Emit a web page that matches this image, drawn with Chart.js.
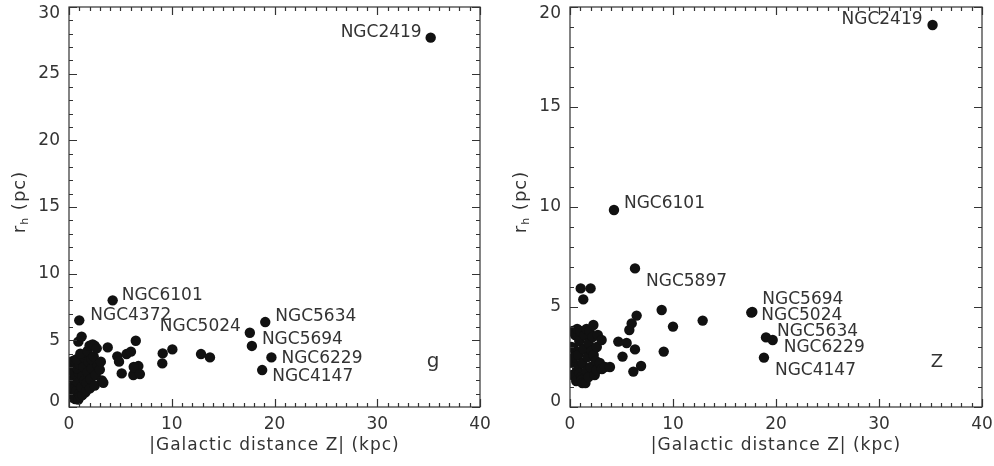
<!DOCTYPE html>
<html>
<head>
<meta charset="utf-8">
<script src="https://cdn.jsdelivr.net/npm/chart.js@4/dist/chart.umd.min.js"></script>
<style>
  html, body { margin: 0; padding: 0; background: #fff; }
  #wrap { position: relative; width: 994px; height: 466px; }
  canvas { position: absolute; top: 0; }
  #chartG { left: 0; }
  #chartZ { left: 497px; }
</style>
</head>
<body>
<div id="wrap">
  <canvas id="chartG" width="497" height="466"></canvas>
  <canvas id="chartZ" width="497" height="466"></canvas>
</div>
<script>
// g band: |Z| (kpc) and half-light radius r_h (pc)
const gDist = [0.2, 0.15, 0.3, 0.4, 0.3, 0.25, 0.5, 0.35, 0.6, 0.58, 0.7, 0.8, 0.5, 0.9, 0.8, 1.0, 0.75,
  0.91, 1.23, 0.9, 1.0, 1.1, 1.3, 1.2, 1.3, 1.4, 1.5, 1.1, 1.5, 1.6, 1.72, 1.7, 1.8, 1.9, 1.8, 2.0,
  2.04, 2.1, 2.2, 2.2, 2.3, 2.4, 2.5, 2.6, 2.5, 2.7, 2.8, 3.0, 3.1, 3.2, 3.34,
  3.77, 4.7, 4.87, 5.6, 6.03, 5.13, 6.26, 6.5, 6.75, 6.3, 6.9, 9.12, 10.06, 9.08, 12.85, 13.72];
const gRh = [0.9, 1.2, 1.5, 2.1, 2.8, 3.4, 3.5, 0.7, 0.6, 0.77, 1.2, 1.9, 2.5, 2.6, 2.9, 3.2, 3.58,
  4.9, 5.28, 0.55, 1.0, 0.8, 0.9, 1.5, 2.3, 3.0, 3.7, 4.0, 2.0, 1.1, 1.27, 1.8, 2.6, 3.4, 4.2, 4.6,
  1.4, 2.1, 2.9, 3.6, 4.7, 3.8, 1.6, 2.4, 4.6, 4.4, 3.1, 2.8, 3.4, 2.0, 1.82,
  4.47, 3.8, 3.4, 3.97, 4.15, 2.52, 2.4, 4.97, 3.07, 3.0, 2.47, 4.02, 4.32, 3.27, 3.97, 3.72];
const gNames = ['NGC2419', 'NGC6101', 'NGC4372', 'NGC5024', 'NGC5634', 'NGC5694', 'NGC6229', 'NGC4147'];
const gNamedDist = [35.2, 4.25, 1.0, 17.6, 19.1, 17.8, 19.7, 18.8];
const gNamedRh = [27.7, 8.0, 6.5, 5.57, 6.37, 4.58, 3.72, 2.77];

// z band
const zDist = [0.2, 0.3, 0.4, 0.5, 0.15, 0.3, 0.6, 0.7, 0.4, 0.8, 0.9, 0.7, 1.0, 0.9, 1.1, 1.13, 1.2,
  1.2, 1.3, 1.4, 1.5, 1.6, 1.7, 1.8, 1.6, 1.9, 1.8, 2.0, 2.1, 2.2, 2.27, 2.3, 2.4, 2.5, 2.59, 2.6,
  2.7, 2.9, 3.07, 3.1, 3.4, 3.88, 1.04, 2.0, 1.29,
  4.69, 5.5, 6.31, 5.1, 6.15, 6.9, 6.47, 5.99, 5.76, 8.9, 10.0, 9.1, 12.88];
const zRh = [1.6, 2.2, 2.9, 3.6, 3.0, 3.8, 1.3, 1.9, 2.5, 2.6, 3.3, 3.9, 3.8, 1.7, 1.5, 1.35, 1.2,
  2.2, 2.9, 3.6, 1.2, 1.8, 2.5, 3.2, 3.9, 3.8, 1.5, 2.0, 2.8, 3.5, 4.1, 2.6, 1.6, 2.3, 1.85, 3.0,
  3.6, 2.2, 3.35, 1.9, 2.0, 2.0, 5.93, 5.93, 5.38,
  3.27, 3.2, 2.88, 2.52, 1.77, 2.05, 4.57, 4.18, 3.85, 4.85, 4.02, 2.77, 4.32];
const zNames = ['NGC2419', 'NGC6101', 'NGC5897', 'NGC5694', 'NGC5024', 'NGC5634', 'NGC6229', 'NGC4147'];
const zNamedDist = [35.2, 4.27, 6.31, 17.7, 17.6, 19.03, 19.68, 18.83];
const zNamedRh = [19.1, 9.85, 6.93, 4.75, 4.72, 3.48, 3.35, 2.47];

const xTicks = [0, 10, 20, 30, 40];
const gYTicks = [0, 5, 10, 15, 20, 25, 30];
const zYTicks = [0, 5, 10, 15, 20];

const FONT = 'DejaVu Sans';
const INK = '#333';

// where each name sits next to its point: [dx, dy, align]
const gLabelPos = [[-9, -5, 'right'], [9, -5, 'left'], [11, -5, 'left'], [-9, -6, 'right'],
  [10, -5, 'left'], [10, -6, 'left'], [10, 1, 'left'], [10, 7, 'left']];
const zLabelPos = [[-10, -5, 'right'], [10, -6, 'left'], [11, 13, 'left'], [10, -12, 'left'],
  [10, 3, 'left'], [11, -6, 'left'], [11, 8, 'left'], [11, 13, 'left']];

// box, inward ticks on all four sides, names, axis titles, band letter
const decor = {
  id: 'decor',
  beforeDraw(chart) {
    // pull the end labels of the y axis back inside the box
    const items = chart.scales.y.getLabelItems(chart.chartArea);
    items[0].options.translation[1] -= 5;
    items[items.length - 1].options.translation[1] += 7;
  },
  afterDatasetsDraw(chart, args, o) {
    const { ctx, chartArea: a, scales: { x, y } } = chart;
    ctx.save();
    ctx.strokeStyle = INK;
    ctx.lineWidth = 1.2;
    ctx.strokeRect(a.left, a.top, a.right - a.left, a.bottom - a.top);
    ctx.beginPath();
    for (let v = x.min; v <= x.max; v += 1) {
      const px = Math.round(x.getPixelForValue(v)) + 0.5;
      const len = v % 10 === 0 ? 8 : 4;
      ctx.moveTo(px, a.bottom); ctx.lineTo(px, a.bottom - len);
      ctx.moveTo(px, a.top); ctx.lineTo(px, a.top + len);
    }
    for (let v = y.min; v <= y.max; v += 1) {
      const py = Math.round(y.getPixelForValue(v)) + 0.5;
      const len = v % 5 === 0 ? 8 : 4;
      ctx.moveTo(a.left, py); ctx.lineTo(a.left + len, py);
      ctx.moveTo(a.right, py); ctx.lineTo(a.right - len, py);
    }
    ctx.stroke();

    // cluster names
    ctx.fillStyle = INK;
    ctx.font = '17px ' + FONT;
    ctx.textBaseline = 'middle';
    const meta = chart.getDatasetMeta(1);
    meta.data.forEach((pt, i) => {
      const [dx, dy, al] = o.labelPos[i];
      ctx.textAlign = al;
      ctx.fillText(o.names[i], pt.x + dx, pt.y + dy);
    });

    // band letter
    ctx.textAlign = 'center';
    ctx.font = o.bandSize + 'px ' + FONT;
    ctx.fillText(o.band, a.right - o.bandDx, a.bottom - 45);

    // x title
    ctx.font = '17px ' + FONT;
    ctx.letterSpacing = '1px';
    ctx.fillText('|Galactic distance Z| (kpc)', (a.left + a.right) / 2, 446);

    // y title with subscript
    ctx.translate(o.yTitleX, (a.top + a.bottom) / 2 - 5);
    ctx.rotate(-Math.PI / 2);
    ctx.textAlign = 'left';
    const big = '18px ' + FONT, small = '11px ' + FONT;
    ctx.font = big;
    const wR = ctx.measureText('r').width;
    const wP = ctx.measureText(' (pc)').width;
    ctx.font = small;
    const wH = ctx.measureText('h').width;
    let cx = -(wR + wH + wP) / 2;
    ctx.font = big;
    ctx.fillText('r', cx, 0);
    cx += wR;
    ctx.font = small;
    ctx.fillText('h', cx, 5);
    cx += wH;
    ctx.font = big;
    ctx.fillText(' (pc)', cx, 0);
    ctx.letterSpacing = '0px';
    ctx.restore();
  }
};

function toPoints(xs, ys) {
  return xs.map((v, i) => ({ x: v, y: ys[i] }));
}

function makePanel(id, dist, rh, names, namedDist, namedRh, yTicks, opts) {
  const dot = { pointRadius: 5.2, pointHoverRadius: 5.2, backgroundColor: '#111', borderWidth: 0 };
  return new Chart(document.getElementById(id), {
    type: 'scatter',
    data: {
      datasets: [
        { data: toPoints(dist, rh), ...dot },
        { data: toPoints(namedDist, namedRh), ...dot }
      ]
    },
    options: {
      responsive: false,
      animation: false,
      layout: { padding: { top: 7, right: opts.padRight, left: 0, bottom: 0 } },
      plugins: {
        legend: { display: false },
        tooltip: { enabled: false },
        decor: opts.decor
      },
      scales: {
        x: {
          type: 'linear',
          min: xTicks[0], max: xTicks[xTicks.length - 1],
          afterBuildTicks: s => { s.ticks = xTicks.map(v => ({ value: v })); },
          afterFit: s => { s.height = 59; s.paddingLeft = 0; s.paddingRight = 0; },
          grid: { display: false, drawTicks: false },
          border: { display: false },
          ticks: { padding: 7, color: INK, font: { family: FONT, size: 17 }, maxRotation: 0 }
        },
        y: {
          type: 'linear',
          min: yTicks[0], max: yTicks[yTicks.length - 1],
          afterBuildTicks: s => { s.ticks = yTicks.map(v => ({ value: v })); },
          afterFit: s => { s.width = opts.yWidth; s.paddingTop = 0; s.paddingBottom = 0; },
          grid: { display: false, drawTicks: false },
          border: { display: false },
          ticks: { padding: 9, color: INK, font: { family: FONT, size: 17 } }
        }
      }
    },
    plugins: [decor]
  });
}

makePanel('chartG', gDist, gRh, gNames, gNamedDist, gNamedRh, gYTicks, {
  padRight: 17, yWidth: 69,
  decor: { names: gNames, labelPos: gLabelPos, band: 'g', bandSize: 20, bandDx: 47, yTitleX: 20 }
});
makePanel('chartZ', zDist, zRh, zNames, zNamedDist, zNamedRh, zYTicks, {
  padRight: 12, yWidth: 73,
  decor: { names: zNames, labelPos: zLabelPos, band: 'Z', bandSize: 18, bandDx: 45, yTitleX: 24 }
});
</script>
</body>
</html>
